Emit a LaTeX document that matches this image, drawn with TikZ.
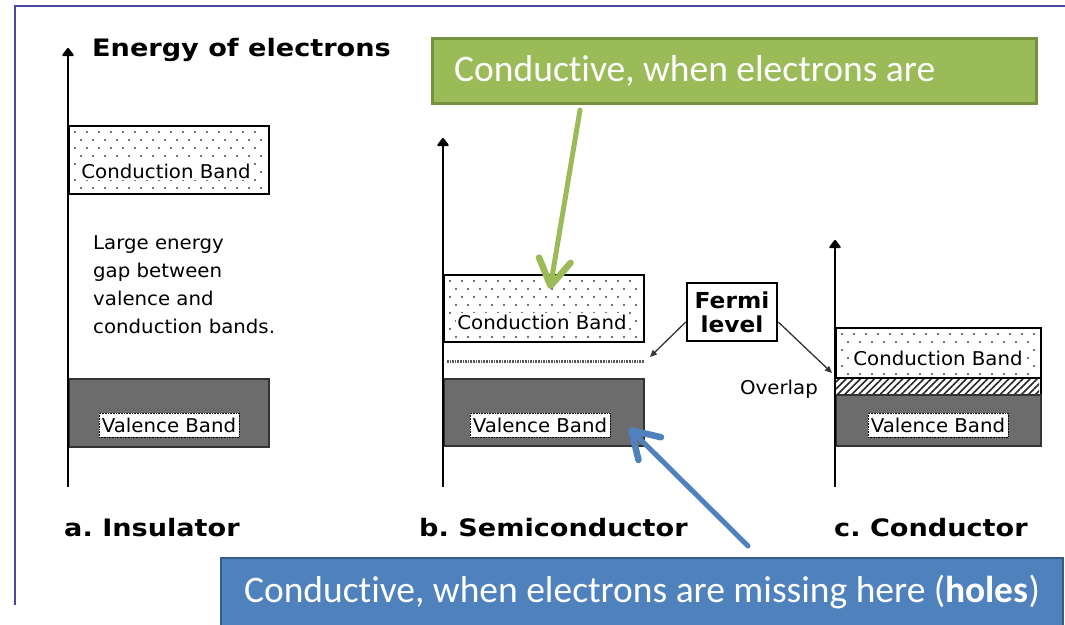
\documentclass[tikz,border=0pt]{standalone}
\usepackage{fontspec}
\usetikzlibrary{arrows.meta,patterns.meta}
\newfontfamily\pixf[FakeStretch=1.04]{DejaVu Sans}
\newfontfamily\pixt[FakeStretch=1.13]{DejaVu Sans}
\newfontfamily\pixm[FakeStretch=1.06]{DejaVu Sans}
\newfontfamily\callf[Ligatures=NoCommon]{Carlito}
\definecolor{frameblue}{RGB}{72,72,160}
\definecolor{gfill}{RGB}{155,187,89}
\definecolor{gdraw}{RGB}{118,146,60}
\definecolor{bfill}{RGB}{79,129,189}
\definecolor{bdraw}{RGB}{56,93,138}
\definecolor{vgray}{RGB}{108,108,108}
\definecolor{dotc}{RGB}{70,70,70}
\newcommand\banddots[4]{%
  \begin{scope}
    \clip (#1,#2) rectangle (#3,#4);
    \foreach \r in {0,...,9} {
      \foreach \c in {0,...,18} {
        \fill[dotc] ({#1+5+12*\c+6*mod(\r,2)},{#2+5+8*\r}) circle[radius=1.1pt];
      }
    }
  \end{scope}}
\begin{document}
\begin{tikzpicture}[x=1pt,y=-1pt,
  frameline/.style={draw=frameblue,line width=1.5pt},
  axisline/.style={line width=2.5pt,-{Triangle[length=9pt,width=13pt,round]}},
  cband/.style={draw=black,line width=2pt,fill=white,inner sep=0pt},
  vband/.style={draw=black!80,line width=2pt,fill=vgray,inner sep=0pt},
  blabel/.style={font=\pixf\fontsize{19}{22}\selectfont,fill=white,inner sep=1.5pt},
  vlabel/.style={font=\pixf\fontsize{19}{22}\selectfont,fill=white,draw=black,densely dotted,line width=0.6pt,inner sep=2pt,minimum width=140,minimum height=24},
  bigtext/.style={font=\pixt\bfseries\fontsize{24}{28}\selectfont,inner sep=0pt},
  gaptext/.style={font=\pixf\fontsize{19}{28}\selectfont,align=left,inner sep=0pt},
  fermibox/.style={draw=black,line width=2.5pt,fill=white,align=center,font=\pixm\bfseries\fontsize{22}{26}\selectfont,minimum width=90,minimum height=58,inner sep=2pt},
  farrow/.style={draw=black!80,line width=1.3pt,-{Triangle[length=7pt,width=6pt]}},
  gboxst/.style={draw=gdraw,line width=3pt,fill=gfill,inner sep=0pt},
  gtextst/.style={text=white,font=\callf\fontsize{37.5}{40}\selectfont,inner sep=0pt},
  bboxst/.style={draw=bdraw,line width=2pt,fill=bfill,text=white,font=\callf\fontsize{37.5}{40}\selectfont,inner sep=0pt},
  garrow/.style={draw=gfill,line width=5pt,line cap=round,-{Straight Barb[length=26pt,width=32pt,round,line width=6.5pt]}},
  barrow/.style={draw=bfill,line width=5pt,line cap=round,-{Straight Barb[length=26pt,width=32pt,round,line width=6.5pt]}}
]
\useasboundingbox (0,0) rectangle (1065,624);
% frame
\coordinate (fbl) at (15,605);
\coordinate (ftl) at (15,6);
\coordinate (ftr) at (1065,6);
\draw[frameline] (fbl) -- (ftl) -- (ftr);

% ---------- a. insulator ----------
\coordinate (ia0) at (68,487);
\coordinate (ia1) at (68,48);
\node[bigtext,anchor=west] (title) at (92,50) {Energy of electrons};
\node[cband,minimum width=200,minimum height=68,anchor=north west] (icb) at (68,125) {};
\banddots{70}{127}{266}{191}
\node[blabel] (icbl) at (166,171) {Conduction Band};
\node[gaptext,anchor=north west] (gap) at (93,235) {Large energy\\gap between\\valence and\\conduction bands.};
\node[vband,minimum width=200,minimum height=68,anchor=north west] (ivb) at (68,378) {};
\node[vlabel] (ivbl) at (169,425) {Valence Band};
\draw[axisline] (ia0) -- (ia1);
\node[bigtext,anchor=west] (ilab) at (64,528) {a.\ Insulator};

% ---------- b. semiconductor ----------
\coordinate (sa0) at (443,487);
\coordinate (sa1) at (443,138);
\node[cband,minimum width=200,minimum height=67,anchor=north west] (scb) at (443,274) {};
\banddots{445}{276}{641}{339}
\node[blabel] (scbl) at (542,322) {Conduction Band};
\coordinate (sf0) at (447,361);
\coordinate (sf1) at (644,361);
\draw[gray!70!black,line width=3pt,dash pattern=on 1.6pt off 1pt] (sf0) -- (sf1);
\node[vband,minimum width=200,minimum height=67,anchor=north west] (svb) at (443,378) {};
\node[vlabel] (svbl) at (540,425) {Valence Band};
\draw[axisline] (sa0) -- (sa1);
\node[bigtext,anchor=west] (slab) at (419,528) {b.\ Semiconductor};

% ---------- c. conductor ----------
\coordinate (ca0) at (835,487);
\coordinate (ca1) at (835,240);
\node[cband,minimum width=205,minimum height=67,anchor=north west] (ccb) at (835,327) {};
\banddots{837}{329}{1038}{377}
\node[blabel] (ccbl) at (938,358) {Conduction Band};
\coordinate (ov0) at (836,378);
\coordinate (ov1) at (1039,394);
\fill[white] (ov0) rectangle (ov1);
\fill[pattern={Lines[angle=45,distance=5pt,line width=1.6pt]},pattern color=black!85] (ov0) rectangle (ov1);
\draw[line width=2pt] (835,378) -- (1040,378);
\node[vband,minimum width=205,minimum height=51,anchor=north west] (cvb) at (835,394) {};
\node[vlabel] (cvbl) at (938,425) {Valence Band};
\draw[axisline] (ca0) -- (ca1);
\node[font=\pixf\fontsize{19}{22}\selectfont,inner sep=0pt] (ovl) at (779,389) {Overlap};
\node[bigtext,anchor=west] (clab) at (834,528) {c.\ Conductor};

% ---------- Fermi level ----------
\node[fermibox] (fermi) at (732,312) {Fermi\\[-2pt]level};
\coordinate (fl) at (650,357);
\coordinate (fr) at (832,373);
\draw[farrow] ([yshift=-10pt]fermi.west) -- (fl);
\draw[farrow] ([yshift=-10pt]fermi.east) -- (fr);

% ---------- callouts ----------
\node[gboxst,minimum width=604,minimum height=65,anchor=north west] (gbox) at (431,37) {};
\node[gtextst,anchor=west] (gtxt) at (454,71) {Conductive, when electrons are};
\coordinate (gs) at (580,110);
\coordinate (ge) at (550,289);
\draw[garrow] (gs) -- (ge);

\node[bboxst,minimum width=842,minimum height=68,anchor=north west] (bbox) at (220,557) {Conductive, when electrons are missing here (\textbf{holes})};
\coordinate (bs) at (748,546);
\coordinate (be) at (629,428);
\draw[barrow] (bs) -- (be);
\end{tikzpicture}
\end{document}
